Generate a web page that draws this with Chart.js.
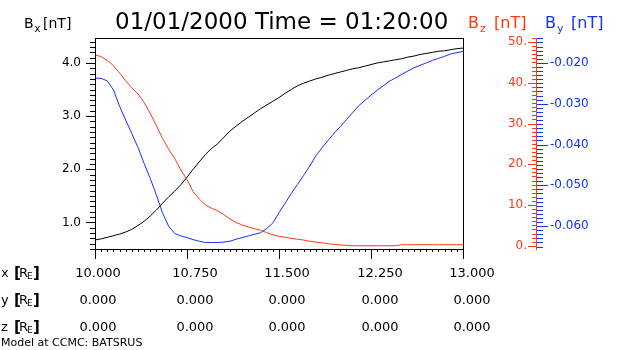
<!DOCTYPE html>
<html>
<head>
<meta charset="utf-8">
<script src="https://cdn.jsdelivr.net/npm/chart.js@4"></script>
<style>
  html, body { margin: 0; padding: 0; background: #fff; }
  canvas { display: block; }
</style>
</head>
<body>
<canvas id="c" width="630" height="350"></canvas>
<script>
// Position along the cut [R_E]
const xPos = [
  10.00, 10.05, 10.10, 10.15, 10.20, 10.25, 10.30, 10.35, 10.40, 10.45,
  10.50, 10.55, 10.60, 10.65, 10.70, 10.75, 10.80, 10.85, 10.90, 10.95,
  11.00, 11.05, 11.10, 11.15, 11.20, 11.25, 11.30, 11.35, 11.40, 11.45,
  11.50, 11.55, 11.60, 11.65, 11.70, 11.75, 11.80, 11.85, 11.90, 11.95,
  12.00, 12.05, 12.10, 12.15, 12.20, 12.25, 12.30, 12.35, 12.40, 12.45,
  12.50, 12.55, 12.60, 12.65, 12.70, 12.75, 12.80, 12.85, 12.90, 12.95,
  13.00
];

// Bx [nT]
const bx = [
  0.67, 0.69, 0.72, 0.75, 0.78, 0.82, 0.87, 0.94, 1.02, 1.12,
  1.23, 1.36, 1.48, 1.59, 1.71, 1.85, 2.00, 2.14, 2.28, 2.39,
  2.48, 2.60, 2.72, 2.81, 2.90, 2.98, 3.06, 3.14, 3.21, 3.28,
  3.35, 3.43, 3.50, 3.57, 3.62, 3.66, 3.70, 3.73, 3.77, 3.80,
  3.83, 3.86, 3.89, 3.91, 3.94, 3.97, 4.00, 4.02, 4.04, 4.06,
  4.08, 4.11, 4.13, 4.16, 4.18, 4.20, 4.22, 4.23, 4.25, 4.27,
  4.28
];

// Bz [nT]
const bz = [
  46.9, 46.4, 45.5, 44.2, 42.4, 40.5, 38.8, 37.3, 35.2, 32.5,
  29.5, 26.4, 23.7, 21.4, 18.6, 16.2, 13.3, 11.5, 10.0, 9.2,
  8.6, 7.6, 6.6, 5.7, 5.1, 4.6, 4.2, 3.8, 3.2, 2.7,
  2.3, 2.1, 1.8, 1.6, 1.4, 1.1, 0.9, 0.7, 0.5, 0.35,
  0.2, 0.1, 0.0, 0.0, 0.0, 0.0, 0.0, 0.0, 0.0, 0.0,
  0.25, 0.25, 0.25, 0.25, 0.25, 0.25, 0.25, 0.25, 0.25, 0.25,
  0.25
];

// By [nT]
const by = [
  -0.0237, -0.0238, -0.0244, -0.0266, -0.0306, -0.0340, -0.0373, -0.0407, -0.0446, -0.0483,
  -0.0523, -0.0567, -0.0600, -0.0618, -0.0624, -0.0628, -0.0633, -0.0637, -0.0640, -0.0640,
  -0.0640, -0.0639, -0.0637, -0.0632, -0.0628, -0.0624, -0.0620, -0.0616, -0.0606, -0.0592,
  -0.0567, -0.0544, -0.0520, -0.0498, -0.0476, -0.0453, -0.0428, -0.0408, -0.0390, -0.0372,
  -0.0356, -0.0339, -0.0322, -0.0305, -0.0292, -0.0279, -0.0267, -0.0256, -0.0245, -0.0237,
  -0.0228, -0.0220, -0.0212, -0.0206, -0.0200, -0.0194, -0.0189, -0.0184, -0.0178, -0.0175,
  -0.0172
];

// Axis tick values and labels
const xTicks = [10, 10.75, 11.5, 12.25, 13];
const xRowLabels = ['10.000', '10.750', '11.500', '12.250', '13.000'];
const yRowLabels = ['0.000', '0.000', '0.000', '0.000', '0.000'];
const zRowLabels = ['0.000', '0.000', '0.000', '0.000', '0.000'];
const bxTicks = [1, 2, 3, 4];
const bxTickLabels = ['1.0', '2.0', '3.0', '4.0'];
const bzTicks = [0, 10, 20, 30, 40, 50];
const bzTickLabels = ['0.', '10.', '20.', '30.', '40.', '50.'];
const byTicks = [-0.06, -0.05, -0.04, -0.03, -0.02];
const byTickLabels = ['-0.060', '-0.050', '-0.040', '-0.030', '-0.020'];

const titleText = '01/01/2000 Time = 01:20:00';
const footerText = 'Model at CCMC: BATSRUS';

const BLACK = '#000000';
const RED = '#ff3814';
const BLUE = '#1230ff';
const FONT = '"DejaVu Sans", "Liberation Sans", sans-serif';

function crisp(v) { return Math.round(v) + 0.5; }
function hLine(ctx, x1, x2, y) {
  ctx.beginPath(); ctx.moveTo(x1, crisp(y)); ctx.lineTo(x2, crisp(y)); ctx.stroke();
}
function vLine(ctx, x, y1, y2) {
  ctx.beginPath(); ctx.moveTo(crisp(x), y1); ctx.lineTo(crisp(x), y2); ctx.stroke();
}

// "B_s [nT]" style heading with a subscript
function fieldLabel(ctx, x, bracketX, sub, size, color) {
  ctx.fillStyle = color;
  ctx.textAlign = 'left';
  ctx.textBaseline = 'alphabetic';
  ctx.font = size + 'px ' + FONT;
  ctx.fillText('B', x, 28);
  const w = ctx.measureText('B').width;
  ctx.font = Math.round(size * 0.7) + 'px ' + FONT;
  ctx.fillText(sub, x + w + 1, 32);
  ctx.font = size + 'px ' + FONT;
  ctx.fillText('[nT]', bracketX, 28);
}

// "x [R_E]" style row heading
function rowLabel(ctx, letter, baseline) {
  ctx.fillStyle = BLACK;
  ctx.textAlign = 'left';
  ctx.textBaseline = 'alphabetic';
  ctx.font = '13px ' + FONT;
  ctx.fillText(letter, 1, baseline);
  ctx.font = 'bold 15px ' + FONT;
  ctx.fillText('[', 14, baseline + 1);
  ctx.font = '13px ' + FONT;
  ctx.fillText('R', 19, baseline);
  ctx.font = '9px ' + FONT;
  ctx.fillText('E', 27, baseline + 2);
  ctx.font = 'bold 15px ' + FONT;
  ctx.fillText(']', 33, baseline + 1);
}

const axesPlugin = {
  id: 'traceAxes',
  afterDatasetsDraw(chart) {
    const ctx = chart.ctx;
    const { left, right, top, bottom } = chart.chartArea;
    const sx = chart.scales.x;
    const sBx = chart.scales.yBx;
    const sBz = chart.scales.yBz;
    const sBy = chart.scales.yBy;
    const axisX = 536;

    ctx.save();
    ctx.lineWidth = 1;

    // frame
    ctx.strokeStyle = BLACK;
    hLine(ctx, left, right + 1, top);
    hLine(ctx, left, right + 1, bottom);
    vLine(ctx, left, top, bottom + 1);
    vLine(ctx, right, top, bottom + 1);

    // x ticks: minor every 0.05, major every 0.75
    for (let i = 0; i <= 60; i++) {
      const px = sx.getPixelForValue(10 + i * 0.05);
      const len = (i % 15 === 0) ? 10 : 3;
      vLine(ctx, px, bottom, bottom + len);
    }

    // Bx ticks: minor every 0.1
    for (let i = 5; i <= 44; i++) {
      const py = sBx.getPixelForValue(i / 10);
      const len = (i % 10 === 0) ? 9 : 5;
      hLine(ctx, left - len, left, py);
    }
    ctx.fillStyle = BLACK;
    ctx.font = '12px ' + FONT;
    ctx.textAlign = 'right';
    ctx.textBaseline = 'middle';
    bxTicks.forEach((v, i) => ctx.fillText(bxTickLabels[i], 81, sBx.getPixelForValue(v)));

    // Bz axis (red): ticks to the left of the spine
    ctx.strokeStyle = RED;
    vLine(ctx, axisX, top, bottom + 1);
    for (let i = 0; i <= 51; i++) {
      const py = sBz.getPixelForValue(i);
      const len = (i % 10 === 0) ? 8 : 4;
      hLine(ctx, axisX - len, axisX, py);
    }
    ctx.fillStyle = RED;
    bzTicks.forEach((v, i) => ctx.fillText(bzTickLabels[i], 527, sBz.getPixelForValue(v)));

    // By axis (blue): ticks to the right of the spine
    ctx.strokeStyle = BLUE;
    for (let i = -65; i <= -14; i++) {
      const py = sBy.getPixelForValue(i / 1000);
      const len = (i % 10 === 0) ? 11 : 6;
      hLine(ctx, axisX + 1, axisX + 1 + len, py);
    }
    ctx.fillStyle = BLUE;
    ctx.textAlign = 'left';
    byTicks.forEach((v, i) => ctx.fillText(byTickLabels[i], 550, sBy.getPixelForValue(v)));

    // headings
    ctx.fillStyle = BLACK;
    ctx.textAlign = 'left';
    ctx.textBaseline = 'alphabetic';
    ctx.font = '23px ' + FONT;
    ctx.fillText(titleText, 115, 29);
    fieldLabel(ctx, 24, 43, 'x', 14, BLACK);
    fieldLabel(ctx, 468, 494, 'z', 16, RED);
    fieldLabel(ctx, 545, 571, 'y', 16, BLUE);

    // position table under the axis
    const colNudge = [3, 8, 8, 9, 9];
    rowLabel(ctx, 'x', 277);
    rowLabel(ctx, 'y', 304);
    rowLabel(ctx, 'z', 331);
    ctx.fillStyle = BLACK;
    ctx.font = '13px ' + FONT;
    ctx.textAlign = 'center';
    xTicks.forEach((v, i) => {
      const cx = sx.getPixelForValue(v) + colNudge[i];
      ctx.fillText(xRowLabels[i], cx, 277);
      ctx.fillText(yRowLabels[i], cx, 304);
      ctx.fillText(zRowLabels[i], cx, 331);
    });

    ctx.textAlign = 'left';
    ctx.font = '11px ' + FONT;
    ctx.fillText(footerText, 1, 346);

    ctx.restore();
  }
};

const pts = (arr) => xPos.map((x, i) => ({ x: x, y: arr[i] }));

new Chart(document.getElementById('c'), {
  type: 'line',
  data: {
    datasets: [
      { label: 'Bx', data: pts(bx), yAxisID: 'yBx', borderColor: BLACK },
      { label: 'Bz', data: pts(bz), yAxisID: 'yBz', borderColor: RED },
      { label: 'By', data: pts(by), yAxisID: 'yBy', borderColor: BLUE }
    ].map(d => Object.assign(d, {
      xAxisID: 'x', borderWidth: 1, pointRadius: 0, tension: 0, fill: false
    }))
  },
  options: {
    responsive: false,
    devicePixelRatio: 1,
    animation: false,
    events: [],
    layout: { padding: { left: 95, top: 38, right: 167, bottom: 101 } },
    plugins: { legend: { display: false }, tooltip: { enabled: false } },
    scales: {
      x: { type: 'linear', min: 10, max: 13, display: false },
      yBx: { type: 'linear', position: 'left', min: 0.5, max: 4.47, display: false },
      yBz: { type: 'linear', position: 'right', min: -0.8, max: 51.0, display: false },
      yBy: { type: 'linear', position: 'right', min: -0.0656, max: -0.0139, display: false }
    }
  },
  plugins: [axesPlugin]
});
</script>
</body>
</html>
